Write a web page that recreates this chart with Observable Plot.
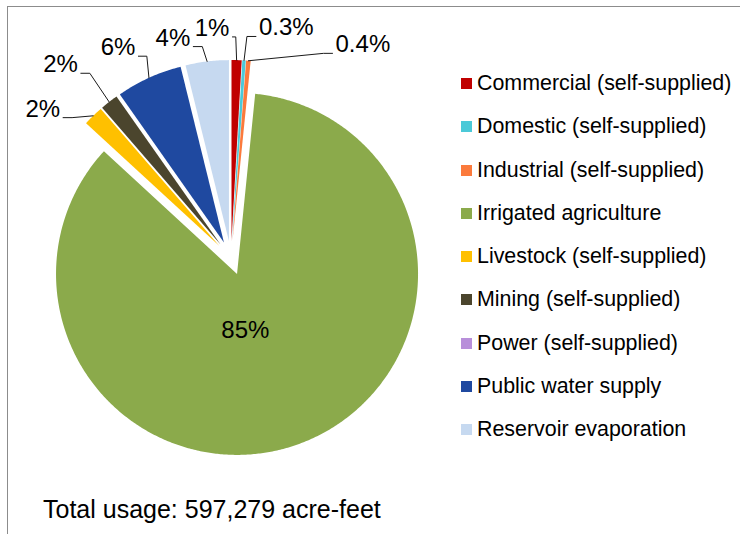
<!DOCTYPE html>
<html>
<head>
<meta charset="utf-8">
<script src="https://cdn.jsdelivr.net/npm/d3@7"></script>
<script src="https://cdn.jsdelivr.net/npm/@observablehq/plot@0.6"></script>
<style>
  body { margin: 0; background: #fff; font-family: "Liberation Sans", Arial, sans-serif; }
  #wrap { position: relative; width: 740px; height: 534px; overflow: hidden; background: #fff; }
  #chart { position: absolute; left: 0; top: 0; }
  #border { position: absolute; left: 7px; top: 6px; width: 900px; height: 700px;
            border-left: 1.5px solid #8c8c8c; border-top: 1.5px solid #8c8c8c; pointer-events: none; }
  #legend { position: absolute; left: 461px; top: 61.8px; }
  #legend .lg-swatches { font-family: "Liberation Sans", Arial, sans-serif; font-size: 21.4px; color: #000; margin: 0; }
  #legend .lg-swatches-wrap { display: flex; flex-direction: column; align-items: flex-start; flex-wrap: nowrap; min-height: 0; }
  #legend .lg-swatch { display: flex; align-items: center; height: 43.3px; margin: 0; white-space: nowrap; }
  #legend .lg-swatch > svg { margin-right: 5px; }
  #caption { position: absolute; left: 43px; top: 496.8px; font-size: 25px; line-height: 25px; color: #000; white-space: nowrap; }
</style>
</head>
<body>
<div id="wrap">
  <div id="chart"></div>
  <div id="border"></div>
  <div id="legend"></div>
  <div id="caption"></div>
</div>
<script>
// ---- data ----
const categories = [
  "Commercial (self-supplied)",
  "Domestic (self-supplied)",
  "Industrial (self-supplied)",
  "Irrigated agriculture",
  "Livestock (self-supplied)",
  "Mining (self-supplied)",
  "Power (self-supplied)",
  "Public water supply",
  "Reservoir evaporation"
];
const shares = [0.9, 0.3, 0.4, 85.25, 1.8, 1.6, 0, 5.9, 3.85]; // percent of total usage
const colors = ["#C00000", "#4BC9D8", "#FB7A3C", "#8BAA4B", "#FFC000", "#4B452D", "#B88FDA", "#1F49A0", "#C6D9F0"];
const totalUsage = 597279; // acre-feet

// ---- layout (not data) ----
const W = 740, H = 534;
const centerPx = [230.5, 257.5];
const radiusPx = 181;
const explode = 17 / radiusPx;            // slice explosion, in radius units
const labelNudge = [-6.8, 10.4, 28.4, 12.3, -7.9, -3.5, null, -3.9, -8.4]; // degrees from slice mid-angle
const labelDist  = [1.186, 1.221, 1.307, 0.311, 1.237, 1.335, null, 1.231, 1.170]; // radius units from slice apex
const labelFont = 24;

// ---- geometry in data units (pie radius = 1) ----
const deg = Math.PI / 180;
const unit = a => [Math.sin(a * deg), Math.cos(a * deg)];
const total = d3.sum(shares);
let acc = 0;
const slices = categories.map((cat, i) => {
  const a0 = acc / total * 360; acc += shares[i];
  const a1 = acc / total * 360;
  const mid = (a0 + a1) / 2;
  const [ux, uy] = unit(mid);
  return {cat, value: shares[i], a0, a1, mid, ax: ux * explode, ay: uy * explode, i};
});

const slicePts = [];
for (const s of slices) {
  if (s.value <= 0) continue;
  slicePts.push({cat: s.cat, x: s.ax, y: s.ay});
  const n = Math.max(2, Math.ceil((s.a1 - s.a0) / 0.5));
  for (let k = 0; k <= n; k++) {
    const [ux, uy] = unit(s.a0 + (s.a1 - s.a0) * k / n);
    slicePts.push({cat: s.cat, x: s.ax + ux, y: s.ay + uy});
  }
  slicePts.push({cat: s.cat, x: s.ax, y: s.ay});
}

const fmt = v => (v < 0.5 ? v.toFixed(1) : Math.round(v).toFixed(0)) + "%";
const ctx = document.createElement("canvas").getContext("2d");
ctx.font = `${labelFont}px "Liberation Sans", Arial, sans-serif`;

const labels = [];
const leaders = [];
for (const s of slices) {
  if (s.value <= 0 || labelDist[s.i] == null) continue;
  const [lx0, ly0] = unit(s.mid + labelNudge[s.i]);
  const L = {x: s.ax + lx0 * labelDist[s.i], y: s.ay + ly0 * labelDist[s.i], text: fmt(s.value), cat: s.cat};
  labels.push(L);
  if (labelDist[s.i] > 1) {
    const [ux, uy] = unit(s.mid);
    const A = {x: s.ax + ux, y: s.ay + uy};
    const wPx = ctx.measureText(L.text).width;
    const sign = L.x < A.x ? 1 : -1;
    const Sx = L.x + sign * (wPx / 2 + 3) / radiusPx;
    const Sy = L.y - 9.7 / radiusPx;
    const run = Math.min(9, 0.8 * Math.abs(A.x - Sx) * radiusPx) / radiusPx;
    leaders.push({id: s.cat, x: Sx, y: Sy});
    leaders.push({id: s.cat, x: Sx + sign * run, y: Sy});
    leaders.push({id: s.cat, x: A.x, y: A.y});
  }
}

const xDomain = [-centerPx[0] / radiusPx, (W - centerPx[0]) / radiusPx];
const yDomain = [(centerPx[1] - H) / radiusPx, centerPx[1] / radiusPx];

const chart = Plot.plot({
  width: W, height: H, margin: 0,
  style: {background: "transparent", fontFamily: '"Liberation Sans", Arial, sans-serif', overflow: "visible"},
  x: {domain: xDomain, axis: null},
  y: {domain: yDomain, axis: null},
  color: {type: "categorical", domain: categories, range: colors},
  marks: [
    Plot.line(slicePts, {x: "x", y: "y", z: "cat", fill: "cat", stroke: "none", curve: "linear"}),
    Plot.line(leaders, {x: "x", y: "y", z: "id", stroke: "#1a1a1a", strokeWidth: 1, curve: "linear"}),
    Plot.text(labels, {x: "x", y: "y", text: "text", fontSize: labelFont, fill: "#000", dy: 1})
  ]
});
document.getElementById("chart").appendChild(chart);

const legend = Plot.legend({
  color: {type: "categorical", domain: categories, range: colors},
  legend: "swatches", swatchSize: 11, className: "lg"
});
document.getElementById("legend").appendChild(legend);

document.getElementById("caption").textContent =
  `Total usage: ${d3.format(",")(totalUsage)} acre-feet`;
</script>
</body>
</html>
